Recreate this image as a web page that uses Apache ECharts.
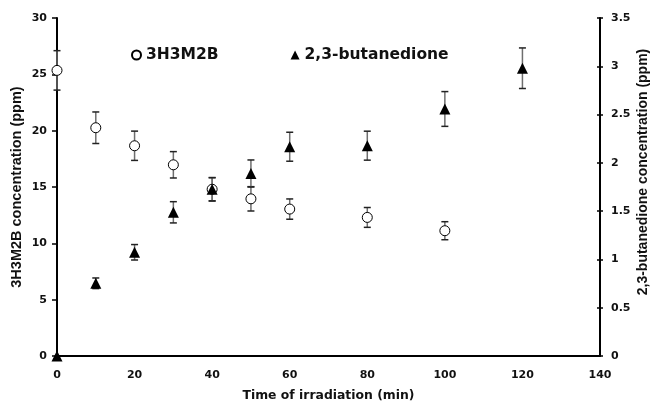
<!DOCTYPE html>
<html>
<head>
<meta charset="utf-8">
<script src="https://cdn.jsdelivr.net/npm/echarts@6/dist/echarts.min.js"></script>
<style>html,body{margin:0;padding:0;background:#fff}#c{width:651px;height:403px}</style>
</head>
<body>
<div id="c"></div>
<script>
// Data
var timesH = [0, 10, 20, 30, 40, 50, 60, 80, 100];
var h3m2b = [25.35, 20.26, 18.66, 16.97, 14.8, 13.95, 13.04, 12.3, 11.12];
var h3m2bErr = [1.75, 1.4, 1.3, 1.17, 1.04, 1.08, 0.9, 0.88, 0.8];

var timesB = [0, 10, 20, 30, 40, 50, 60, 80, 100, 120];
var butanedione = [0, 0.753, 1.074, 1.488, 1.726, 1.89, 2.167, 2.178, 2.558, 2.98];
var butanedioneErr = [0, 0.055, 0.08, 0.11, 0.12, 0.14, 0.15, 0.15, 0.18, 0.21];

var xTicks = [0, 140, 20];
var leftTicks = [0, 30, 5];
var rightTicks = [0, 3.5, 0.5];

var FONT_H = "'DejaVu Sans', 'Liberation Sans', Arial, sans-serif";
var FONT_V = "'Liberation Sans', Arial, sans-serif";

function errData(xs, ys, es) {
  return xs.map(function (x, i) { return [x, ys[i] - es[i], ys[i] + es[i]]; });
}
function errRender(params, api) {
  var x = api.value(0);
  var lo = api.coord([x, api.value(1)]);
  var hi = api.coord([x, api.value(2)]);
  if (Math.abs(lo[1] - hi[1]) < 0.5) return null;
  var hw = 3.5;
  return {
    type: 'group',
    children: [
      { type: 'line', shape: { x1: lo[0], y1: lo[1], x2: hi[0], y2: hi[1] }, style: { stroke: '#6e6e6e', lineWidth: 1.5 } },
      { type: 'line', shape: { x1: lo[0] - hw, y1: lo[1], x2: lo[0] + hw, y2: lo[1] }, style: { stroke: '#222', lineWidth: 1.5 } },
      { type: 'line', shape: { x1: hi[0] - hw, y1: hi[1], x2: hi[0] + hw, y2: hi[1] }, style: { stroke: '#222', lineWidth: 1.5 } }
    ]
  };
}

var chart = echarts.init(document.getElementById('c'), null, { renderer: 'canvas' });
var labelStyle = { color: '#111', fontFamily: FONT_H, fontWeight: 'bold', fontSize: 11 };

chart.setOption({
  animation: false,
  backgroundColor: '#fff',
  grid: { left: 57, right: 51, top: 18, bottom: 47, containLabel: false, outerBoundsMode: 'none' },
  legend: {
    left: 131, top: 47, padding: 0, itemWidth: 9, itemHeight: 9, itemGap: 72,
    textStyle: { color: '#111', fontFamily: FONT_H, fontWeight: 'bold', fontSize: 15.5 },
    data: [
      { name: '3H3M2B', icon: 'circle' },
      { name: '2,3-butanedione', icon: 'triangle' }
    ]
  },
  xAxis: {
    type: 'value', min: xTicks[0], max: xTicks[1], interval: xTicks[2],
    name: 'Time of irradiation (min)', nameLocation: 'middle', nameGap: 34, nameMoveOverlap: false,
    nameTextStyle: { color: '#111', fontFamily: FONT_H, fontWeight: 'bold', fontSize: 12.4 },
    axisLine: { lineStyle: { color: '#000', width: 2 } },
    axisTick: { show: false },
    axisLabel: Object.assign({ margin: 14 }, labelStyle),
    splitLine: { show: false }
  },
  yAxis: [
    {
      type: 'value', min: leftTicks[0], max: leftTicks[1], interval: leftTicks[2], position: 'left',
      name: '3H3M2B concentration (ppm)', nameLocation: 'middle', nameGap: 33, nameRotate: 90, nameMoveOverlap: false,
      nameTextStyle: { color: '#111', fontFamily: FONT_V, fontWeight: 'bold', fontSize: 14.5 },
      axisLine: { show: true, lineStyle: { color: '#000', width: 2 } },
      axisTick: { show: true, length: 5, lineStyle: { color: '#000', width: 1.5 } },
      axisLabel: Object.assign({ margin: 10 }, labelStyle),
      splitLine: { show: false }
    },
    {
      type: 'value', min: rightTicks[0], max: rightTicks[1], interval: rightTicks[2], position: 'right',
      name: '2,3-butanedione concentration (ppm)', nameLocation: 'middle', nameGap: 36, nameRotate: 90, nameMoveOverlap: false,
      nameTextStyle: { color: '#111', fontFamily: FONT_V, fontWeight: 'bold', fontSize: 14, padding: [0, 0, 0, 30] },
      axisLine: { show: true, lineStyle: { color: '#000', width: 2 } },
      axisTick: { show: true, length: 3, lineStyle: { color: '#000', width: 1.5 } },
      axisLabel: Object.assign({ margin: 11 }, labelStyle),
      splitLine: { show: false }
    },
    {
      type: 'value', min: rightTicks[0], max: rightTicks[1], interval: rightTicks[2], position: 'right',
      axisLine: { show: false },
      axisTick: { show: true, inside: true, length: 3, lineStyle: { color: '#000', width: 1.5 } },
      axisLabel: { show: false },
      splitLine: { show: false }
    }
  ],
  series: [
    {
      type: 'custom', name: 'err1', yAxisIndex: 0, z: 2, silent: true,
      renderItem: errRender, data: errData(timesH, h3m2b, h3m2bErr), encode: { x: 0, y: [1, 2] }
    },
    {
      type: 'custom', name: 'err2', yAxisIndex: 1, z: 2, silent: true,
      renderItem: errRender, data: errData(timesB, butanedione, butanedioneErr), encode: { x: 0, y: [1, 2] }
    },
    {
      type: 'scatter', name: '3H3M2B', yAxisIndex: 0, z: 4, symbol: 'circle', symbolSize: 10, clip: false,
      itemStyle: { color: '#fff', borderColor: '#000', borderWidth: 1, opacity: 1 },
      data: timesH.map(function (t, i) { return [t, h3m2b[i]]; })
    },
    {
      type: 'scatter', name: '2,3-butanedione', yAxisIndex: 1, z: 5, symbol: 'triangle', symbolSize: 11, clip: false,
      itemStyle: { color: '#000', opacity: 1 },
      data: timesB.map(function (t, i) { return [t, butanedione[i]]; })
    }
  ]
});
</script>
</body>
</html>
